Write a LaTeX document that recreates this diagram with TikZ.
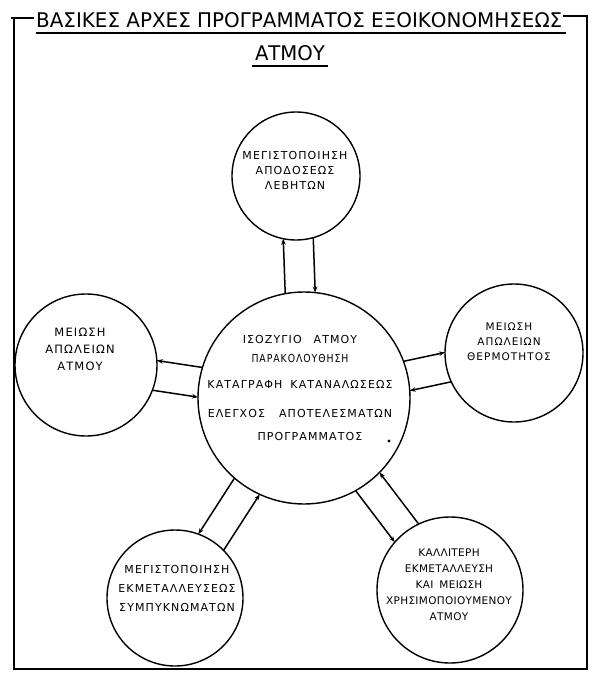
\documentclass[tikz,border=0pt]{standalone}
\usepackage{fontspec}
\usepackage{graphicx}
\usetikzlibrary{arrows.meta,calc}
\newfontfamily\hand[LetterSpace=10]{DejaVu Sans}
\newfontfamily\handb[LetterSpace=3]{DejaVu Sans}
\newfontfamily\titlef{DejaVu Sans}
\begin{document}
\begin{tikzpicture}[x=1pt,y=-1pt,
  bubble/.style={circle,draw,line width=1.4pt,inner sep=0pt,outer sep=0pt},
  txt/.style={align=center,inner sep=0pt},
  link/.style={line width=1.5pt,-{Stealth[length=6pt,width=4.5pt]}},
  frame/.style={line width=1.6pt},
  uline/.style={line width=1.6pt}
]
\useasboundingbox (0,0) rectangle (594,674);
\fill[white] (0,0) rectangle (594,674);
% frame
\draw[frame] (11,18) -- (34,18);
\draw[frame] (14,18) -- (14,669) -- (587,669) -- (587,15);
\draw[frame] (563,16) -- (587,16);
% title
\node[txt,anchor=base west] (title1) at (36,28) {\resizebox{526pt}{15pt}{\titlef ΒΑΣΙΚΕΣ ΑΡΧΕΣ ΠΡΟΓΡΑΜΜΑΤΟΣ ΕΞΟΙΚΟΝΟΜΗΣΕΩΣ}};
\node[txt,anchor=base] (title2) at (290,61) {\resizebox{70pt}{15pt}{\titlef ΑΤΜΟΥ}};
\coordinate (u1a) at (36,33);
\coordinate (u1b) at (566,33);
\coordinate (u2a) at (252,66);
\coordinate (u2b) at (328,66);
\draw[uline] (u1a) -- (u1b);
\draw[uline] (u2a) -- (u2b);
% circles
\node[bubble,minimum size=128pt] (T) at (296,176) {};
\node[bubble,minimum size=212pt] (C) at (304,398) {};
\node[bubble,minimum size=142pt] (L) at (86,365) {};
\node[bubble,minimum size=138pt] (R) at (514,353) {};
\node[bubble,minimum size=136pt] (BL) at (175,598) {};
\node[bubble,minimum size=146pt] (BR) at (450,590) {};
% texts
\node[txt,font=\hand\fontsize{11}{15}\selectfont] (Tt) at (295,170) {ΜΕΓΙΣΤΟΠΟΙΗΣΗ\\ΑΠΟΔΟΣΕΩΣ\\ΛΕΒΗΤΩΝ};
\node[txt,font=\hand\fontsize{11.5}{17}\selectfont] (Lt) at (80,349) {ΜΕΙΩΣΗ\\ΑΠΩΛΕΙΩΝ\\ΑΤΜΟΥ};
\node[txt,font=\hand\fontsize{10.5}{15}\selectfont] (Rt) at (509,342) {ΜΕΙΩΣΗ\\ΑΠΩΛΕΙΩΝ\\ΘΕΡΜΟΤΗΤΟΣ};
\node[txt,font=\hand\fontsize{11}{19}\selectfont] (Ct) at (300,388) {ΙΣΟΖΥΓΙΟ\hspace{12pt}ΑΤΜΟΥ\\\scalebox{0.85}[1]{ΠΑΡΑΚΟΛΟΥΘΗΣΗ}\\[7pt]ΚΑΤΑΓΡΑΦΗ\hspace{8pt}ΚΑΤΑΝΑΛΩΣΕΩΣ\\[10pt]ΕΛΕΓΧΟΣ\hspace{14pt}ΑΠΟΤΕΛΕΣΜΑΤΩΝ\\[4pt]\hspace*{20pt}ΠΡΟΓΡΑΜΜΑΤΟΣ};
\node[txt,font=\hand\fontsize{11}{19}\selectfont] (BLt) at (177,588) {ΜΕΓΙΣΤΟΠΟΙΗΣΗ\\ΕΚΜΕΤΑΛΛΕΥΣΕΩΣ\\ΣΥΜΠΥΚΝΩΜΑΤΩΝ};
\node[txt,font=\handb\fontsize{10.5}{16}\selectfont] (BRt) at (449,585) {ΚΑΛΛΙΤΕΡΗ\\ΕΚΜΕΤΑΛΛΕΥΣΗ\\ΚΑΙ\hspace{6pt}ΜΕΙΩΣΗ\\ΧΡΗΣΙΜΟΠΟΙΟΥΜΕΝΟΥ\\ΑΤΜΟΥ};
\fill (389,441) circle (1.6pt);
% connectors: pairs offset 15pt either side of the centre line
% left
\draw[link,shorten <=104.9pt,shorten >=69.4pt] ($(C)!15pt!-90:(L)$) -- ($(L)!15pt!90:(C)$);
\draw[link,shorten <=69.4pt,shorten >=104.9pt] ($(L)!15pt!-90:(C)$) -- ($(C)!15pt!90:(L)$);
% right
\draw[link,shorten <=104.9pt,shorten >=67.3pt] ($(C)!15pt!90:(R)$) -- ($(R)!15pt!-90:(C)$);
\draw[link,shorten <=67.3pt,shorten >=104.9pt] ($(R)!15pt!90:(C)$) -- ($(C)!15pt!-90:(R)$);
% top
\draw[link,shorten <=104.9pt,shorten >=62.2pt] ($(C)!15pt!90:(T)$) -- ($(T)!15pt!-90:(C)$);
\draw[link,shorten <=62.2pt,shorten >=104.9pt] ($(T)!15pt!90:(C)$) -- ($(C)!15pt!-90:(T)$);
% bottom left
\draw[link,shorten <=104.9pt,shorten >=66.3pt] ($(C)!15pt!-90:(BL)$) -- ($(BL)!15pt!90:(C)$);
\draw[link,shorten <=66.3pt,shorten >=104.9pt] ($(BL)!15pt!-90:(C)$) -- ($(C)!15pt!90:(BL)$);
% bottom right
\draw[link,shorten <=104.9pt,shorten >=71.5pt] ($(C)!15pt!-90:(BR)$) -- ($(BR)!15pt!90:(C)$);
\draw[link,shorten <=71.5pt,shorten >=104.9pt] ($(BR)!15pt!-90:(C)$) -- ($(C)!15pt!90:(BR)$);
\end{tikzpicture}
\end{document}
